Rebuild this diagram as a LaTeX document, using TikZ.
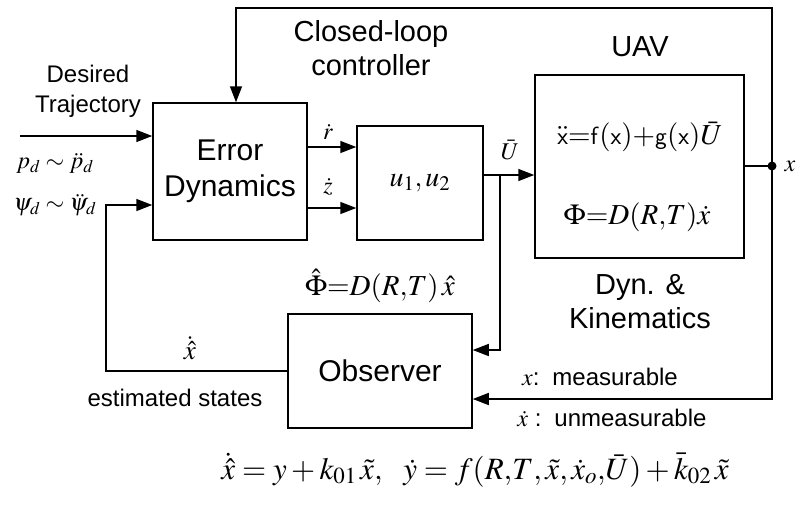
\documentclass[tikz,border=0pt]{standalone}
\usepackage{mathptmx}
\usepackage[no-math]{fontspec}
\setmainfont{Liberation Sans}
\usetikzlibrary{arrows.meta}
\tikzset{block/.style={draw, line width=1.5pt, align=center, font=\fontsize{30}{36}\selectfont},
    lbl/.style={align=center, font=\fontsize{24}{30}\selectfont},
    bigl/.style={align=center, font=\fontsize{29}{34}\selectfont},
    wire/.style={line width=1.5pt},
    sig/.style={wire, -{Triangle[length=16pt,width=12pt]}}}

\begin{document}
\begin{tikzpicture}[x=1pt,y=-1pt]
    \useasboundingbox (0,0) rectangle (803,504);
    \node[block, minimum width=154pt, minimum height=137pt] (err) at (230,171.5) {Error\\Dynamics};
    \node[block, minimum width=126pt, minimum height=114pt, font=\fontsize{28}{34}\selectfont] (ctrl) at (420,183) {$u_1,u_2$};
    \node[block, minimum width=209pt, minimum height=183pt] (uav) at (639.5,166.5) {};
    \node[block, minimum width=184pt, minimum height=114pt] (obs) at (380,371) {Observer};
    % inside the UAV block
    \node[bigl] (dyn) at (640,137) {$\ddot{\mathsf{x}}{=}\mathsf{f(x){+}g(x)}\bar{U}$};
    \node[bigl] (kin) at (637,217) {$\Phi{=}D(R{,}T)\dot{x}$};
    \node[bigl] (cl) at (371,48) {Closed-loop\\controller};
    \node[bigl] (uavt) at (640,47) {UAV};
    \node[bigl] (dk) at (640,302) {Dyn. \&\\Kinematics};
    \node[lbl] (des) at (88,91) {Desired\\Trajectory};
    \node[lbl] (pd) at (55,163) {$p_d\sim\ddot{p}_d$};
    \node[lbl] (psid) at (55,205) {$\psi_d\sim\ddot{\psi}_d$};
    \node[lbl] (rd) at (328,132) {$\dot{r}$};
    \node[lbl] (zd) at (328,187) {$\dot{z}$};
    \node[lbl] (ub) at (510,150) {$\bar{U}$};
    \node[lbl] (xo) at (790,166) {$x$};
    \node[bigl] (phih) at (380,286) {$\hat{\Phi}{=}D(R{,}T)\,\hat{x}$};
    \node[lbl, font=\fontsize{27}{30}\selectfont] (xh) at (190,348) {$\dot{\hat{x}}$};
    \node[lbl] (est) at (175,398) {estimated states};
    \node[lbl] (meas) at (600,377) {$x$:\, measurable};
    \node[lbl] (unm) at (612,418) {$\dot{x}$ :\, unmeasurable};
    \node[bigl, font=\fontsize{31}{36}\selectfont] (obseq) at (475,470) {$\dot{\hat{x}}=y+k_{01}\,\tilde{x},\ \ \dot{y}=f(R{,}T{,}\,\tilde{x}{,}\,\dot{x}_o{,}\bar{U})+\bar{k}_{02}\,\tilde{x}$};
    \coordinate (start) at (20,136);
    \coordinate (br) at (500,175);
    \coordinate (out) at (772,166);
    % signal flow
    \draw[sig] (start) -- (err.west |- start);
    \draw[sig] (obs.west) -| (106,205) -- (err.west |- 0,205);
    \draw[sig] (err.east |- 0,147) -- (ctrl.west |- 0,147);
    \draw[sig] (err.east |- 0,208) -- (ctrl.west |- 0,208);
    \draw[sig] (ctrl.east |- br) -- (uav.west |- br);
    \draw[sig] (br) |- (obs.east |- 0,350);
    \draw[wire] (uav.east |- out) -- (out);
    \fill (out) circle (4.5pt);
    \draw[sig] (out) |- (236,8) -- (err.north -| 236,0);
    \draw[sig] (out) |- (obs.east |- 0,399);
\end{tikzpicture}
\end{document}
